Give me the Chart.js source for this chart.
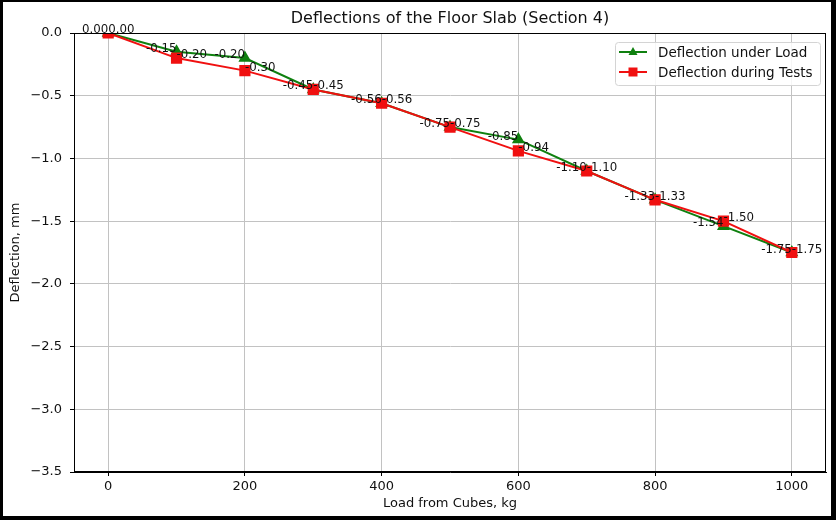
<!DOCTYPE html>
<html>
<head>
<meta charset="utf-8">
<script src="https://cdn.jsdelivr.net/npm/chart.js@4.4.0/dist/chart.umd.min.js"></script>
<style>
  html, body { margin: 0; padding: 0; background: #000; }
  #wrap { width: 836px; height: 520px; }
</style>
</head>
<body>
<div id="wrap"><canvas id="chart" width="836" height="520"></canvas></div>
<script>
// load (kg) and deflection (mm)
const loads = [0, 100, 200, 300, 400, 500, 600, 700, 800, 900, 1000]
const underLoad = [0.00, -0.15, -0.20, -0.45, -0.56, -0.75, -0.85, -1.10, -1.33, -1.54, -1.75]
const duringTests = [0.00, -0.20, -0.30, -0.45, -0.56, -0.75, -0.94, -1.10, -1.33, -1.50, -1.75]

const xTicks = [0, 200, 400, 600, 800, 1000]
const yTicks = [0, -0.5, -1.0, -1.5, -2.0, -2.5, -3.0, -3.5]

const TITLE = 'Deflections of the Floor Slab (Section 4)'
const FONT = 'DejaVu Sans'
const GREEN = '#0f800f'
const RED = '#f01010'

const toPoints = (ys) => loads.map((x, i) => ({ x: x, y: ys[i] }))

// black frame, title over the axes, top/right spines and the legend
const figure = {
  id: 'figure',
  beforeDraw(chart) {
    const ctx = chart.ctx
    ctx.save()
    ctx.fillStyle = '#000'
    ctx.fillRect(0, 0, chart.width, chart.height)
    ctx.fillStyle = '#fff'
    ctx.fillRect(3, 2, 828, 514)
    ctx.restore()
  },
  afterDraw(chart) {
    const ctx = chart.ctx
    const a = chart.chartArea
    ctx.save()
    ctx.strokeStyle = '#000'
    ctx.lineWidth = 1
    ctx.strokeRect(a.left + 0.5, a.top + 0.5, a.right - a.left - 1, a.bottom - a.top - 1)

    ctx.font = '16px "' + FONT + '"'
    ctx.fillStyle = '#111'
    ctx.textAlign = 'center'
    ctx.textBaseline = 'middle'
    ctx.fillText(TITLE, (a.left + a.right) / 2, 19)

    // legend, upper right inside the axes
    const w = 205, h = 43
    const lx = a.right - 6 - w
    const ly = a.top + 9
    ctx.beginPath()
    ctx.roundRect(lx + 0.5, ly + 0.5, w, h, 3)
    ctx.fillStyle = 'rgba(255,255,255,0.85)'
    ctx.fill()
    ctx.strokeStyle = '#d4d4d4'
    ctx.stroke()
    ctx.font = '13.5px "' + FONT + '"'
    ctx.textAlign = 'left'
    chart.data.datasets.forEach((ds, i) => {
      const y = ly + 10 + i * 20
      ctx.strokeStyle = ds.borderColor
      ctx.lineWidth = 2
      ctx.beginPath()
      ctx.moveTo(lx + 4, y)
      ctx.lineTo(lx + 32, y)
      ctx.stroke()
      const cx = lx + 18
      ctx.fillStyle = ds.pointBackgroundColor
      ctx.beginPath()
      if (ds.pointStyle === 'triangle') {
        ctx.moveTo(cx, y - 5)
        ctx.lineTo(cx + 4.5, y + 3)
        ctx.lineTo(cx - 4.5, y + 3)
      } else {
        ctx.rect(cx - 4.5, y - 4.5, 9, 9)
      }
      ctx.closePath()
      ctx.fill()
      ctx.fillStyle = '#111'
      ctx.fillText(ds.label, lx + 43, y + 1)
    })
    ctx.restore()
  },
  afterDatasetsDraw(chart) {
    // value labels next to each point
    const ctx = chart.ctx
    ctx.save()
    ctx.font = '11.8px "' + FONT + '"'
    ctx.fillStyle = '#111'
    ctx.textBaseline = 'alphabetic'
    chart.data.datasets.forEach((ds, i) => {
      const meta = chart.getDatasetMeta(i)
      ctx.textAlign = ds.labelAlign
      meta.data.forEach((pt, j) => {
        ctx.fillText(ds.data[j].y.toFixed(2), pt.x, pt.y)
      })
    })
    ctx.restore()
  }
}

const tickFont = { family: FONT, size: 13 }

new Chart(document.getElementById('chart'), {
  type: 'line',
  data: {
    datasets: [
      {
        label: 'Deflection under Load',
        data: toPoints(underLoad),
        borderColor: GREEN,
        backgroundColor: GREEN,
        pointBackgroundColor: GREEN,
        pointBorderColor: GREEN,
        pointStyle: 'triangle',
        pointRadius: 5.5,
        borderWidth: 2,
        labelAlign: 'right',
        order: 1
      },
      {
        label: 'Deflection during Tests',
        data: toPoints(duringTests),
        borderColor: RED,
        backgroundColor: RED,
        pointBackgroundColor: RED,
        pointBorderColor: RED,
        pointStyle: 'rect',
        pointRadius: 6.5,
        borderWidth: 2,
        labelAlign: 'left',
        order: 0
      }
    ]
  },
  options: {
    responsive: false,
    animation: false,
    layout: { padding: { left: 0, right: 10, top: 33, bottom: 0 } },
    plugins: {
      legend: { display: false },
      tooltip: { enabled: false },
      title: { display: false }
    },
    scales: {
      x: {
        type: 'linear',
        min: -50,
        max: 1050,
        afterBuildTicks: (s) => { s.ticks = xTicks.map((v) => ({ value: v })) },
        afterFit: (s) => { s.height = 48 },
        ticks: {
          color: '#111',
          font: tickFont,
          padding: 3,
          maxRotation: 0,
          callback: (v) => String(v)
        },
        grid: { color: '#c2c2c2', lineWidth: 1, tickColor: '#000', tickLength: 4, tickWidth: 1 },
        border: { color: '#000', width: 1 },
        title: {
          display: true,
          text: 'Load from Cubes, kg',
          color: '#111',
          font: tickFont,
          padding: { top: 0, bottom: 9 }
        }
      },
      y: {
        type: 'linear',
        min: -3.5,
        max: 0,
        afterBuildTicks: (s) => { s.ticks = yTicks.map((v) => ({ value: v })) },
        afterFit: (s) => { s.width = 74 },
        ticks: {
          color: '#111',
          font: tickFont,
          padding: 8,
          callback: (v) => v.toFixed(1).replace('-', '\u2212')
        },
        grid: { color: '#c2c2c2', lineWidth: 1, tickColor: '#000', tickLength: 4, tickWidth: 1 },
        border: { color: '#000', width: 1 },
        title: {
          display: true,
          text: 'Deflection, mm',
          color: '#111',
          font: tickFont,
          padding: { top: 8, bottom: 0 }
        }
      }
    }
  },
  plugins: [figure]
})
</script>
</body>
</html>
